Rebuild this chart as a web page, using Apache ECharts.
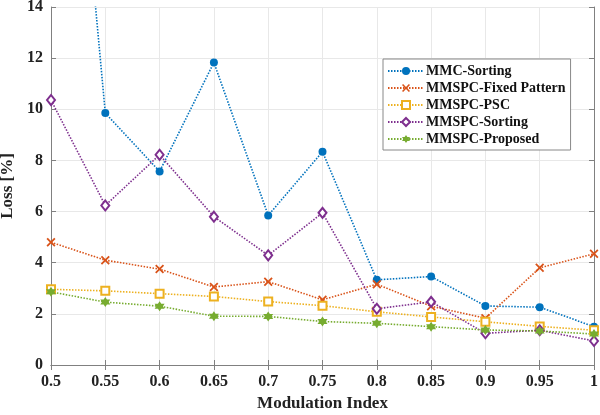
<!DOCTYPE html>
<html><head><meta charset="utf-8">
<script src="https://cdn.jsdelivr.net/npm/echarts@6/dist/echarts.min.js"></script>
<style>html,body{margin:0;padding:0;background:#fff}#c{width:600px;height:415px}</style>
</head><body><div id="c"></div>
<script>
const categories = ['0.5','0.55','0.6','0.65','0.7','0.75','0.8','0.85','0.9','0.95','1'];
const mmcSorting      = [33, 9.85, 7.57, 11.83, 5.85, 8.34, 3.33, 3.46, 2.31, 2.26, 1.50];
const mmspcFixed      = [4.80, 4.10, 3.75, 3.05, 3.26, 2.55, 3.16, 2.30, 1.83, 3.80, 4.35];
const mmspcPSC        = [2.96, 2.90, 2.79, 2.68, 2.48, 2.32, 2.08, 1.88, 1.69, 1.51, 1.36];
const mmspcSorting    = [10.36, 6.24, 8.22, 5.80, 4.29, 5.95, 2.20, 2.47, 1.24, 1.36, 0.94];
const mmspcProposed   = [2.86, 2.46, 2.30, 1.91, 1.90, 1.70, 1.63, 1.50, 1.37, 1.33, 1.21];
const yTicks = {min: 0, max: 14, interval: 2};

const FONT = '"Liberation Serif", "Times New Roman", serif';
const xMark = 'path://M-5,-3.6 L-3.6,-5 L0,-1.4 L3.6,-5 L5,-3.6 L1.4,0 L5,3.6 L3.6,5 L0,1.4 L-3.6,5 L-5,3.6 L-1.4,0 Z';
const hexagram = 'path://M0,-10 L2.887,-5 L8.66,-5 L5.774,0 L8.66,5 L2.887,5 L0,10 L-2.887,5 L-8.66,5 L-5.774,0 L-8.66,-5 L-2.887,-5 Z';

function mk(name, data, color, symbol, size, hollow) {
  return {
    name, type: 'line', data, clip: true,
    symbol, symbolSize: size,
    lineStyle: {color, width: 1.6, type: [1.5, 1.5]},
    itemStyle: hollow ? {color, borderColor: color, borderWidth: 1.8} : {color, borderWidth: 0},
    emphasis: {disabled: true},
    animation: false
  };
}

const chart = echarts.init(document.getElementById('c'), null, {renderer: 'canvas'});
const axisLine = {show: true, lineStyle: {color: '#808080', width: 1}};
const tick = {show: true, inside: true, length: 5, lineStyle: {color: '#808080'}};
const split = {show: true, lineStyle: {color: '#e8e8e8', width: 1}};
chart.setOption({
  animation: false,
  grid: {left: 51, right: 6, top: 7, bottom: 50, containLabel: false, outerBoundsMode: 'none'},
  xAxis: [{
    type: 'category', data: categories, boundaryGap: false,
    name: 'Modulation Index', nameLocation: 'middle', nameGap: 28,
    nameTextStyle: {fontFamily: FONT, fontWeight: 'bold', fontSize: 17, color: '#222'},
    axisLine, axisTick: Object.assign({}, tick, {alignWithLabel: true}), splitLine: split,
    axisLabel: {fontFamily: FONT, fontWeight: 'bold', fontSize: 16, color: '#222', margin: 9, interval: 0}
  }, {
    type: 'category', data: categories, boundaryGap: false, position: 'top',
    axisLine, axisTick: tick, axisLabel: {show: false}, splitLine: {show: false}
  }],
  yAxis: [{
    type: 'value', min: yTicks.min, max: yTicks.max, interval: yTicks.interval,
    name: 'Loss [%]', nameLocation: 'middle', nameGap: 21, nameRotate: 90,
    nameTextStyle: {fontFamily: FONT, fontWeight: 'bold', fontSize: 17, color: '#222'},
    axisLine, axisTick: tick, splitLine: split,
    axisLabel: {fontFamily: FONT, fontWeight: 'bold', fontSize: 16, color: '#222', margin: 8}
  }, {
    type: 'value', min: yTicks.min, max: yTicks.max, interval: yTicks.interval, position: 'right',
    axisLine, axisTick: tick, axisLabel: {show: false}, splitLine: {show: false}
  }],
  legend: {
    orient: 'vertical', left: 383, top: 59, width: 189,
    padding: [5, 5, 4, 4], itemGap: 3, itemWidth: 36, itemHeight: 10,
    borderColor: '#888', borderWidth: 1, backgroundColor: '#fff', borderRadius: 0,
    textStyle: {fontFamily: FONT, fontWeight: 'bold', fontSize: 14, color: '#111', padding: [0,0,0,-3]},
    data: ['MMC-Sorting','MMSPC-Fixed Pattern','MMSPC-PSC','MMSPC-Sorting','MMSPC-Proposed']
  },
  series: [
    mk('MMC-Sorting', mmcSorting, '#0072BD', 'circle', 8, false),
    mk('MMSPC-Fixed Pattern', mmspcFixed, '#D95319', xMark, 9, false),
    mk('MMSPC-PSC', mmspcPSC, '#EDB120', 'emptyRect', 8, true),
    mk('MMSPC-Sorting', mmspcSorting, '#7E2F8E', 'emptyDiamond', [8, 10], true),
    mk('MMSPC-Proposed', mmspcProposed, '#77AC30', hexagram, 10, false)
  ]
});
</script></body></html>
